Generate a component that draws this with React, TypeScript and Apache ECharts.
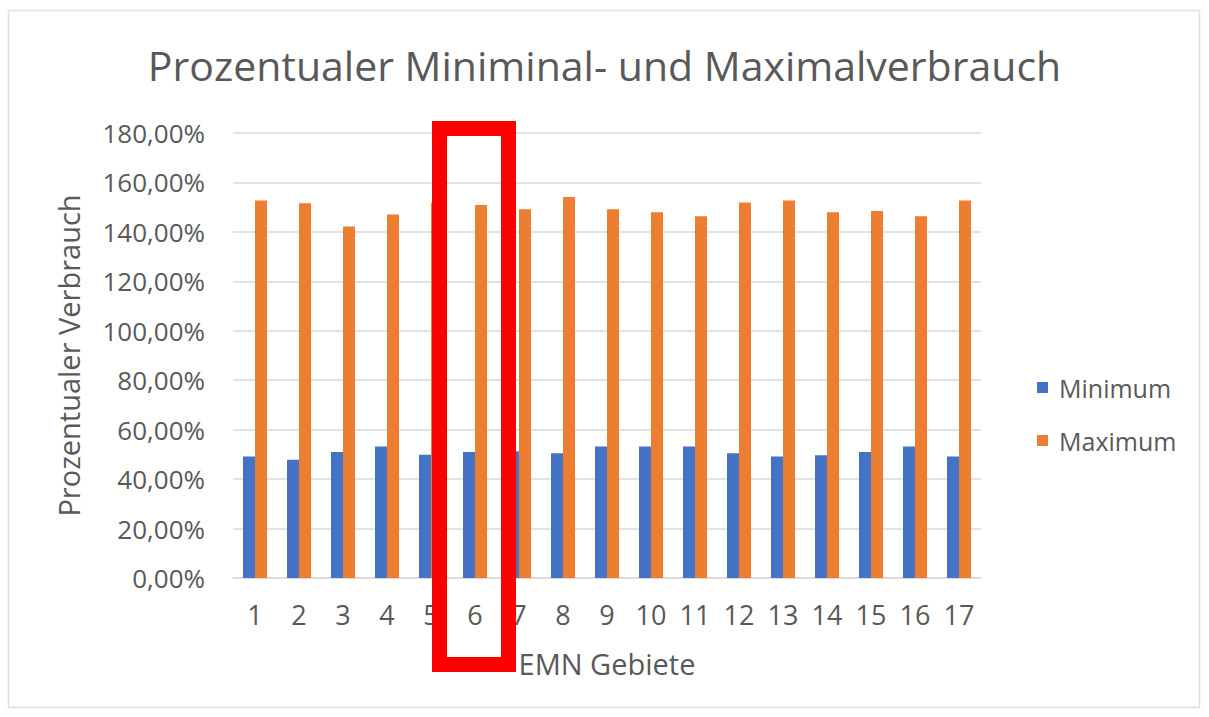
import React, { useEffect, useRef } from "react";
import * as echarts from "echarts";

const categories = ["1","2","3","4","5","6","7","8","9","10","11","12","13","14","15","16","17"];
const minimumValues = [49.1, 47.8, 51.0, 53.2, 49.9, 51.0, 51.3, 50.5, 53.2, 53.2, 53.2, 50.5, 49.1, 49.7, 51.0, 53.2, 49.1];
const maximumValues = [152.7, 151.6, 142.2, 147.0, 151.9, 150.9, 149.2, 154.1, 149.2, 147.9, 146.3, 151.9, 152.7, 147.9, 148.5, 146.3, 152.7];
const seriesNames = ["Minimum", "Maximum"];
const titleText = "Prozentualer Miniminal- und Maximalverbrauch";
const yAxisName = "Prozentualer Verbrauch";
const xAxisName = "EMN Gebiete";

const FONT = "'Open Sans', 'Noto Sans', sans-serif";
const GRAY = "#595959";

export default function App() {
  const ref = useRef<HTMLDivElement>(null);
  useEffect(() => {
    if (!ref.current) return;
    const chart = echarts.init(ref.current, undefined, { renderer: "svg" });
    chart.setOption({
      animation: false,
      backgroundColor: "#ffffff",
      title: {
        text: titleText,
        left: "center",
        top: 39,
        textStyle: { fontFamily: FONT, fontSize: 41, fontWeight: "normal", color: GRAY },
      },
      legend: {
        orient: "vertical",
        left: 1032,
        top: 370,
        itemWidth: 11,
        itemHeight: 11,
        itemGap: 28,
        icon: "rect",
        data: seriesNames,
        textStyle: { fontFamily: FONT, fontSize: 25, color: GRAY, padding: [0, 0, 0, 6] },
      },
      grid: { left: 233, right: 228, top: 133, bottom: 139, containLabel: false },
      xAxis: {
        type: "category",
        data: categories,
        name: xAxisName,
        nameLocation: "middle",
        nameGap: 71,
        nameTextStyle: { fontFamily: FONT, fontSize: 29, color: GRAY },
        axisLine: { lineStyle: { color: "#d9d9d9", width: 1.5 } },
        axisTick: { show: false },
        axisLabel: { fontFamily: FONT, fontSize: 27, color: GRAY, margin: 23 },
      },
      yAxis: {
        type: "value",
        min: 0,
        max: 180,
        interval: 20,
        name: yAxisName,
        nameLocation: "middle",
        nameGap: 150,
        nameRotate: 90,
        nameTextStyle: { fontFamily: FONT, fontSize: 29, color: GRAY },
        axisLine: { show: false },
        axisTick: { show: false },
        splitLine: { lineStyle: { color: "#d9d9d9", width: 1.5 } },
        axisLabel: {
          fontFamily: FONT,
          fontSize: 26,
          color: GRAY,
          margin: 28,
          formatter: (v: number) => v.toFixed(2).replace(".", ",") + "%",
        },
      },
      series: [
        {
          name: seriesNames[0],
          type: "bar",
          data: minimumValues,
          itemStyle: { color: "#4472C4" },
          barWidth: 12,
          barGap: "0%",
        },
        {
          name: seriesNames[1],
          type: "bar",
          data: maximumValues,
          itemStyle: { color: "#ED7D31" },
          barWidth: 12,
          barGap: "0%",
        },
      ],
      graphic: [
        {
          type: "rect",
          shape: { x: 8.5, y: 10.5, width: 1191, height: 697 },
          style: { fill: "none", stroke: "#e0e0e0", lineWidth: 1.5 },
          silent: true,
        },
        {
          type: "rect",
          z: 100,
          shape: { x: 439.5, y: 128.5, width: 69, height: 536 },
          style: { fill: "none", stroke: "#ff0000", lineWidth: 15 },
          silent: true,
        },
      ],
    });
    return () => chart.dispose();
  }, []);
  return <div ref={ref} style={{ position: "fixed", left: 0, top: 0, width: 1209, height: 717 }} />;
}
